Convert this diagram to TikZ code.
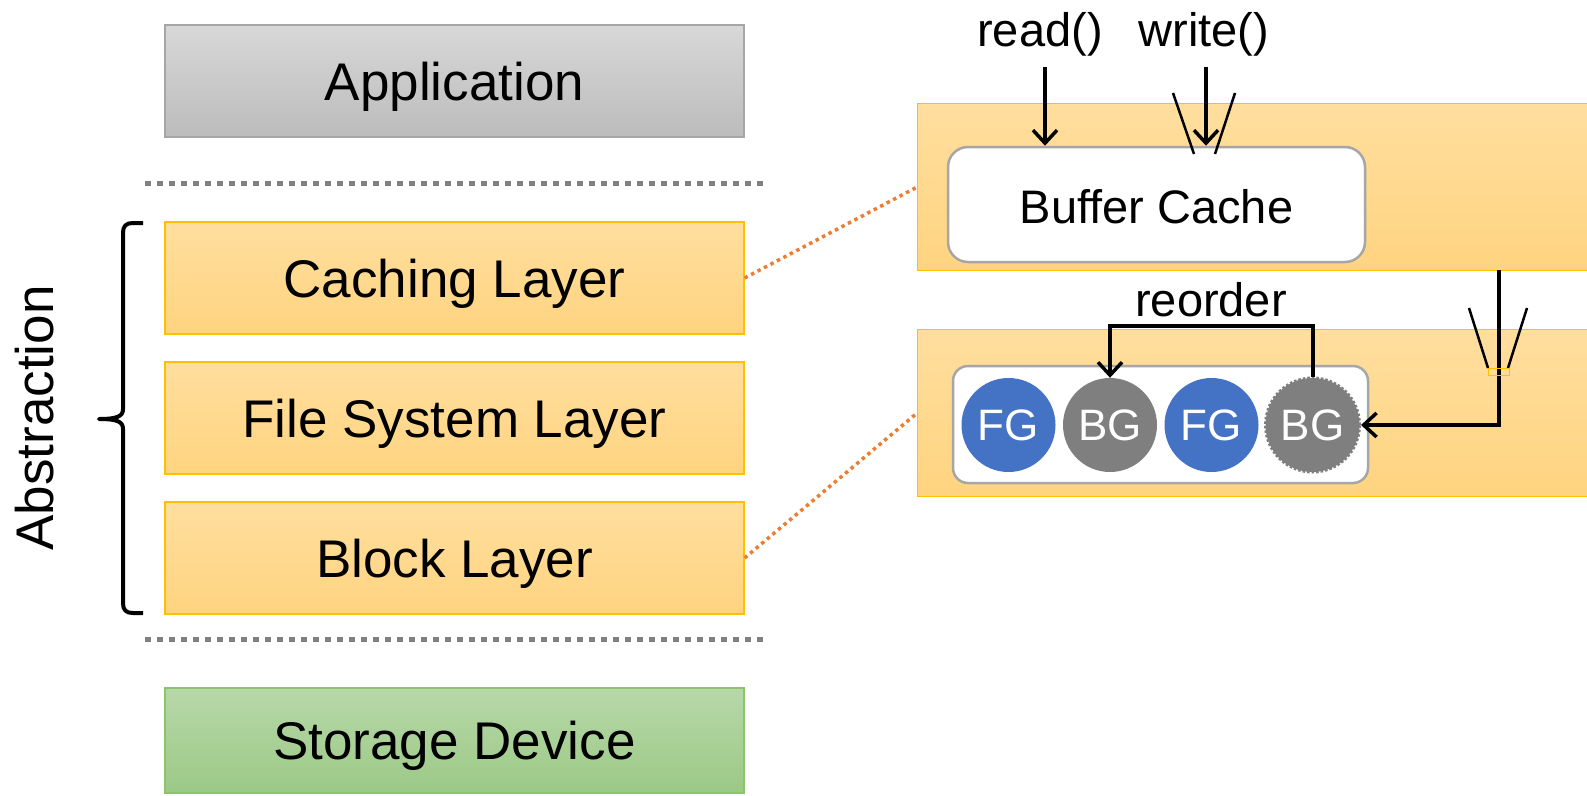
\documentclass[tikz,border=0pt]{standalone}
\usepackage{fontspec}
\setmainfont{Liberation Sans}
\usetikzlibrary{arrows.meta}
\definecolor{grTop}{HTML}{D8D8D8}
\definecolor{grBot}{HTML}{BCBCBC}
\definecolor{grEdge}{HTML}{A6A6A6}
\definecolor{orTop}{HTML}{FFDE9E}
\definecolor{orBot}{HTML}{FFD480}
\definecolor{orEdge}{HTML}{FFC000}
\definecolor{gnTop}{HTML}{B7D8A9}
\definecolor{gnBot}{HTML}{9CC986}
\definecolor{gnEdge}{HTML}{8CC46C}
\definecolor{fgBlue}{HTML}{4472C4}
\definecolor{bgGray}{HTML}{7F7F7F}
\definecolor{sepGray}{HTML}{808080}
\definecolor{linkOrange}{HTML}{ED7D31}
\begin{document}
\begin{tikzpicture}[x=1pt,y=-1pt,
  capcenter/.style={text height=#1, text depth=0pt},
  bigfont/.style={font=\fontsize{53}{60}\selectfont},
  midfont/.style={font=\fontsize{47}{54}\selectfont},
  layer/.style={rectangle, minimum width=579pt, minimum height=112pt, inner sep=0pt, line width=1.2pt, bigfont, capcenter=38pt},
  orangebox/.style={top color=orTop, bottom color=orBot, draw=orEdge},
  panel/.style={rectangle, anchor=north west, minimum width=700pt, minimum height=167pt, inner sep=0pt, line width=1.2pt, orangebox},
  whitebox/.style={rectangle, fill=white, draw=grEdge, line width=2.5pt, inner sep=0pt},
  task/.style={circle, minimum size=94pt, inner sep=0pt, text=white, font=\fontsize{44}{50}\selectfont, capcenter=31.5pt},
  separator/.style={draw=sepGray, line width=5pt, dash pattern=on 6pt off 6pt},
  link/.style={draw=linkOrange, line width=3.5pt, dash pattern=on 3.5pt off 3.8pt},
  tip/.style={-{Straight Barb[length=13pt,width=24pt,line width=3.5pt]}},
  conn/.style={line width=4pt},
  arr/.style={conn, tip},
  jump/.style={line width=2.5pt}
]
\clip (0,0) rectangle (1587,795);
\fill[white] (0,0) rectangle (1587,795);

% ---- layered stack on the left ----
\node[layer, top color=grTop, bottom color=grBot, draw=grEdge] (app) at (454.5,81) {Application};
\node[layer, orangebox] (cache) at (454.5,278) {Caching Layer};
\node[layer, orangebox] (fs) at (454.5,418) {File System Layer};
\node[layer, orangebox] (blk) at (454.5,558) {Block Layer};
\node[layer, minimum height=105pt, top color=gnTop, bottom color=gnBot, draw=gnEdge] (dev) at (454.5,740.5) {Storage Device};

\draw[separator] (145,183) -- (766,183);
\draw[separator] (145,639) -- (766,639);

% brace grouping the abstraction layers
\draw[line width=4pt, line join=round]
  (143,223) -- (133,223) .. controls (126,223) and (123,226) .. (123,233)
  -- (123,409) .. controls (123,416) and (118,419) .. (99,419)
  .. controls (118,419) and (123,422) .. (123,429)
  -- (123,603) .. controls (123,610) and (126,613) .. (133,613) -- (143,613);
\node[bigfont, rotate=90] (abs) at (35,418) {Abstraction};

% ---- detail panels on the right ----
\node[panel] (ptop) at (917,103) {};
\node[panel] (pbot) at (917,329) {};

\node[whitebox, rounded corners=20pt, minimum width=417pt, minimum height=115pt, midfont, capcenter=33.6pt] (buf) at (1156.5,204.5) {\raisebox{-2pt}{Buffer Cache}};
\node[whitebox, rounded corners=15pt, minimum width=415pt, minimum height=117pt] (queue) at (1160.5,424.5) {};

\node[task, fill=fgBlue] (fg1) at (1008.5,425) {FG};
\node[task, fill=bgGray] (bg1) at (1110,425) {BG};
\node[task, fill=fgBlue] (fg2) at (1211.5,425) {FG};
\node[task, fill=bgGray, draw=bgGray, line width=3pt, dash pattern=on 2.5pt off 2pt] (bg2) at (1312.5,425) {BG};

% zoom links from the stack to the panels
\draw[link] (cache.east) -- (ptop.west);
\draw[link] (blk.east) -- (pbot.west);

% system calls into the buffer cache
\node[midfont] (rdlbl) at (1040,34) {read()};
\node[midfont] (wrlbl) at (1204,34) {write()};
\coordinate (rd) at (1045,67);
\coordinate (wr) at (1206,67);
\draw[arr] (rd) -- (rd |- buf.north);
\draw[arr] (wr) -- (wr |- buf.north);
\draw[jump] (1173,93) -- (1194,154);
\draw[jump] (1235,93) -- (1215,154);

% reorder of the background request
\coordinate (ra) at (1312.5,326);
\coordinate (rb) at (1110,326);
\draw[arr] (bg2.north) -- (ra) -- (rb) -- (bg1.north);
\node[midfont] (reord) at (1211,300) {reorder};

% write-back path from the cache into the block queue
\coordinate (wbtop) at (1499,270);
\coordinate (wbcorner) at (1499,425);
\draw[arr] (wbtop) -- (wbcorner) -- (bg2.east);
\draw[jump] (1469,308) -- (1488,368);
\draw[jump] (1527,308) -- (1508,368);
\draw[draw=orEdge, line width=0.8pt] (1488,368) rectangle (1509,375);
\end{tikzpicture}
\end{document}
